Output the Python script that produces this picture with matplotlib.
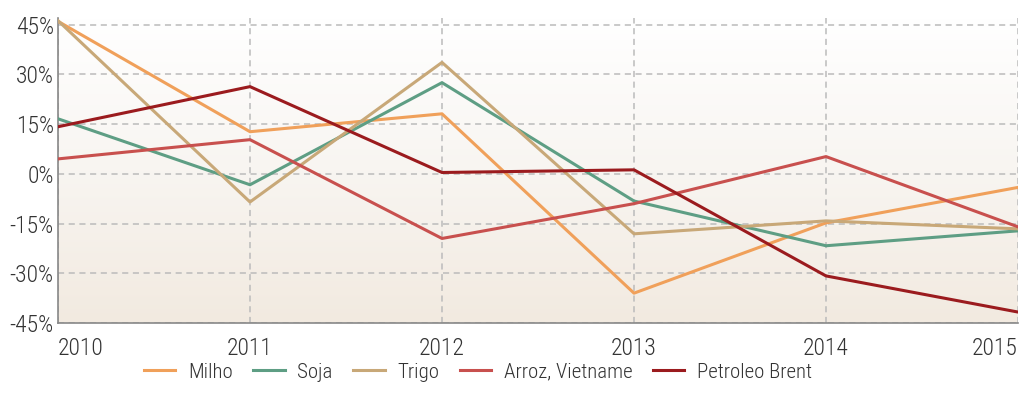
import matplotlib
matplotlib.use("Agg")
import matplotlib.pyplot as plt
from matplotlib import font_manager
import numpy as np
from matplotlib.colors import LinearSegmentedColormap

# pick a narrow font if one is installed
installed = {f.name for f in font_manager.fontManager.ttflist}
narrow = [n for n in ["Liberation Sans Narrow", "DejaVu Sans Condensed",
                      "Roboto Condensed", "Open Sans Condensed"] if n in installed]
plt.rcParams['font.family'] = narrow[:1] + ['DejaVu Sans']
if not narrow:
    plt.rcParams['font.stretch'] = 'condensed'
plt.rcParams['font.weight'] = 'light'

years = [2010, 2011, 2012, 2013, 2014, 2015]
milho = [46, 12.7, 18.1, -36, -14.8, -4.1]
soja = [16.6, -3.3, 27.5, -8.2, -21.7, -17.2]
trigo = [46.2, -8.5, 33.6, -18.1, -14.2, -16.6]
arroz = [4.5, 10.3, -19.5, -9, 5.2, -16]
petroleo = [14.2, 26.3, 0.4, 1.2, -30.8, -41.7]

names = ["Milho", "Soja", "Trigo", "Arroz, Vietname", "Petroleo Brent"]
series = [milho, soja, trigo, arroz, petroleo]
colors = ["#F0A05A", "#5E9E84", "#C8A878", "#C8504E", "#9B1B1E"]

yticks = [-45, -30, -15, 0, 15, 30, 45]

fig = plt.figure(figsize=(10.27, 4.09), dpi=100)
ax = fig.add_axes([58/1027, 1-323/409, (1018-58)/1027, (323-18)/409])

# background gradient
cmap = LinearSegmentedColormap.from_list("bg", ["#FFFFFF", "#F8F5F1", "#F2EAE0"])
grad = np.linspace(0, 1, 256).reshape(-1, 1)
ax.imshow(grad, aspect='auto', cmap=cmap, extent=[0, 1, 0, 1],
          transform=ax.transAxes, zorder=0, origin='upper')

for name, vals, c in zip(names, series, colors):
    ax.plot(years, vals, color=c, lw=2.2, label=name, zorder=3)

ax.set_xlim(2010, 2015)
ax.set_ylim(-45, 47)
ax.set_yticks(yticks)
ax.set_yticklabels([f"{v}%" for v in yticks])
ax.set_xticks(years)
ax.set_xticklabels([str(y) for y in years])
labels = ax.get_xticklabels()
labels[0].set_horizontalalignment('left')
labels[-1].set_horizontalalignment('right')

ax.grid(True, color="#BBBBBB", linestyle=(0, (4, 3)), lw=1.1, zorder=1)
ax.set_axisbelow(True)
for s in ['top', 'right']:
    ax.spines[s].set_visible(False)
for s in ['left', 'bottom']:
    ax.spines[s].set_color("#888888")
    ax.spines[s].set_linewidth(1.2)
ax.tick_params(axis='both', length=0, labelsize=17, colors="#333333")
ax.tick_params(axis='x', pad=10)
ax.tick_params(axis='y', pad=3)

fig.legend(loc='center', bbox_to_anchor=(478/1027, 1-372/409), ncol=5,
           frameon=False, fontsize=15, handlelength=1.5, columnspacing=1.0,
           handletextpad=0.6, labelcolor="#333333")

fig.savefig("out.png", dpi=100)
